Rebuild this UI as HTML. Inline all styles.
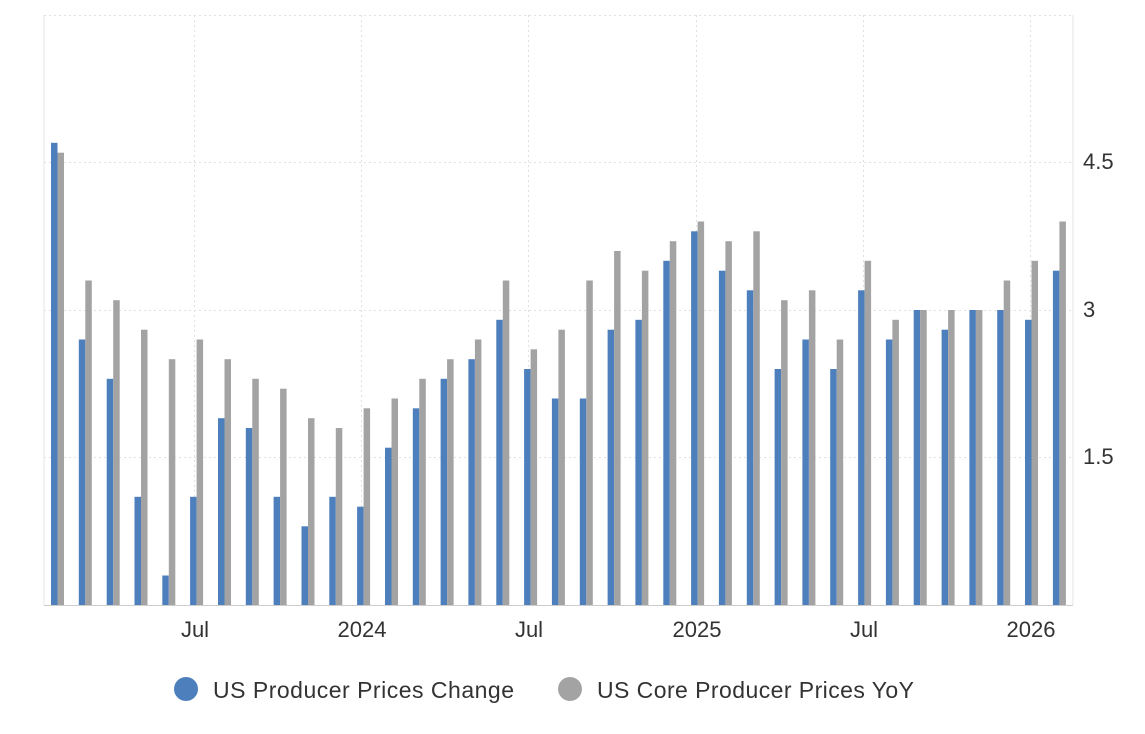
<!DOCTYPE html>
<html><head><meta charset="utf-8"><style>
body{margin:0;background:#fff;}
svg text{font-family:"Liberation Sans",sans-serif;}
</style></head><body>
<svg width="1145" height="729" xmlns="http://www.w3.org/2000/svg">
<g stroke="#e6e6e6" stroke-width="1">
<line x1="44" y1="15" x2="44" y2="605"/>
<line x1="1073" y1="15" x2="1073" y2="605"/>
</g>
<g stroke="#e0e0e0" stroke-width="1" stroke-dasharray="2,3">
<line x1="44" y1="15.5" x2="1073" y2="15.5"/>
<line x1="44" y1="162.5" x2="1073" y2="162.5"/>
<line x1="44" y1="310.5" x2="1073" y2="310.5"/>
<line x1="44" y1="457.5" x2="1073" y2="457.5"/>
<line x1="194.5" y1="15" x2="194.5" y2="605"/>
<line x1="361.5" y1="15" x2="361.5" y2="605"/>
<line x1="528.5" y1="15" x2="528.5" y2="605"/>
<line x1="696.5" y1="15" x2="696.5" y2="605"/>
<line x1="863.5" y1="15" x2="863.5" y2="605"/>
<line x1="1030.5" y1="15" x2="1030.5" y2="605"/>
</g>
<g id="bars"></g>
<line x1="44" y1="605.5" x2="1073" y2="605.5" stroke="#ccc"/>
<g font-size="22" fill="#333">
<text x="1083" y="169">4.5</text>
<text x="1083" y="317">3</text>
<text x="1083" y="464">1.5</text>
<g text-anchor="middle">
<text x="195" y="637">Jul</text>
<text x="362" y="637">2024</text>
<text x="529" y="637">Jul</text>
<text x="697" y="637">2025</text>
<text x="864" y="637">Jul</text>
<text x="1031" y="637">2026</text>
</g>
</g>
<circle cx="186" cy="689" r="12" fill="#4e7fbd"/>
<text x="213" y="698" font-size="23" fill="#333" textLength="301">US Producer Prices Change</text>
<circle cx="570" cy="689" r="12" fill="#a3a3a3"/>
<text x="597" y="698" font-size="23" fill="#333" textLength="317">US Core Producer Prices YoY</text>
</svg>
<script>
var b=[4.7,2.7,2.3,1.1,0.3,1.1,1.9,1.8,1.1,0.8,1.1,1.0,1.6,2.0,2.3,2.5,2.9,2.4,2.1,2.1,2.8,2.9,3.5,3.8,3.4,3.2,2.4,2.7,2.4,3.2,2.7,3.0,2.8,3.0,3.0,2.9,3.4];
var g=[4.6,3.3,3.1,2.8,2.5,2.7,2.5,2.3,2.2,1.9,1.8,2.0,2.1,2.3,2.5,2.7,3.3,2.6,2.8,3.3,3.6,3.4,3.7,3.9,3.7,3.8,3.1,3.2,2.7,3.5,2.9,3.0,3.0,3.0,3.3,3.5,3.9];
var s='',k=98.33;
for(var i=0;i<b.length;i++){var x=51+i*27.83;
var hb=b[i]*k,hg=g[i]*k;
s+='<rect x="'+x.toFixed(1)+'" y="'+(605-hb).toFixed(1)+'" width="6.5" height="'+hb.toFixed(1)+'" fill="#4e7fbd"/>';
s+='<rect x="'+(x+6.5).toFixed(1)+'" y="'+(605-hg).toFixed(1)+'" width="6.5" height="'+hg.toFixed(1)+'" fill="#a3a3a3"/>';}
document.getElementById('bars').innerHTML=s;
</script>
</body></html>
